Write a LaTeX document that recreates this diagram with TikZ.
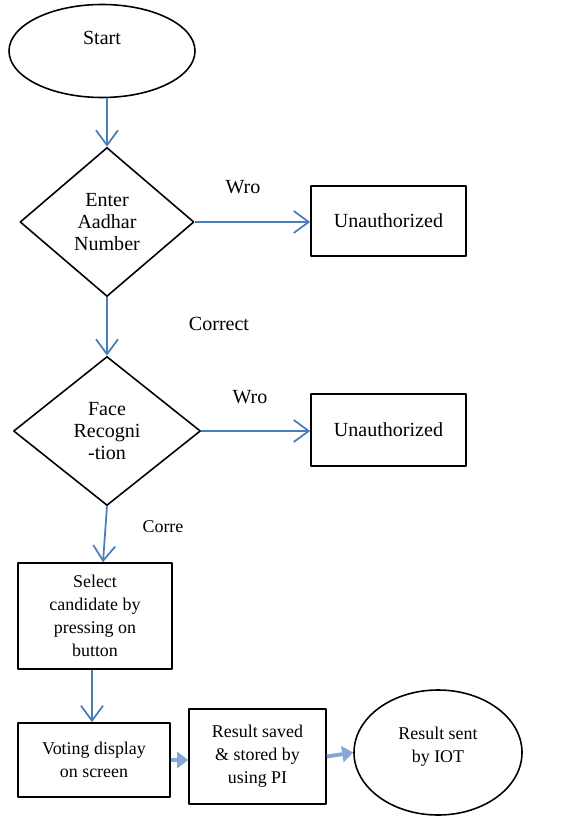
\documentclass[tikz,border=0pt]{standalone}
\usepackage{fontspec}
\setmainfont{Liberation Serif}
\usetikzlibrary{shapes.geometric,arrows.meta}

\definecolor{xanhdam}{RGB}{74,126,187}
\definecolor{xanhnhat}{RGB}{133,167,215}

\begin{document}
\begin{tikzpicture}[x=0.2mm,y=-0.2mm,line join=round,
  font=\fontsize{11.4}{12.6}\selectfont,
  khung/.style={draw,line width=0.9pt,align=center,inner sep=2pt},
  hop/.style={khung,rectangle},
  thoi/.style={khung,diamond},
  bau/.style={khung,ellipse},
  chunho/.style={font=\fontsize{10.2}{13.1}\selectfont},
  muiten/.style={xanhdam,line width=1pt,-{Straight Barb[length=3mm,width=4.4mm]}},
  muiday/.style={xanhnhat,line width=2.2pt,-{Triangle[length=2.2mm,width=3.2mm]}}]
  \useasboundingbox (0,0) rectangle (578,817);

  % Bat dau va hai buoc kiem tra
  \node[bau, minimum width=37.2mm, minimum height=18.6mm, text depth=5.2mm] (start) at (102,51) {Start};
  \node[thoi, minimum width=34.8mm, minimum height=29.8mm] (aadhar) at (107,222) {Enter\\Aadhar\\Number};
  \node[hop, minimum width=31mm, minimum height=14mm] (sai1) at (388.5,221) {Unauthorized};
  \node[thoi, minimum width=37.4mm, minimum height=29.8mm] (face) at (107,431) {Face\\Recogni\\-tion};
  \node[hop, minimum width=31mm, minimum height=14.4mm] (sai2) at (388.5,430) {Unauthorized};

  % Cac buoc bau chon
  \node[hop, chunho, minimum width=30.8mm, minimum height=21.2mm] (chon) at (95,616) {Select\\candidate by\\pressing on\\button};
  \node[hop, chunho, minimum width=30.4mm, minimum height=14.8mm] (hienthi) at (94,760) {Voting display\\on screen};
  \node[hop, chunho, minimum width=27.4mm, minimum height=19mm] (luu) at (257.5,756.5) {Result saved\\\& stored by\\using PI};
  \node[bau, chunho, minimum width=33.6mm, minimum height=25mm, text depth=3.2mm] (gui) at (438,752.5) {Result sent\\by IOT};

  % Nhan tren duong noi
  \node (wro1) at (243,187) {Wro};
  \node (dung1) at (219,324) {Correct};
  \node (wro2) at (250,397) {Wro};
  \node[chunho] (dung2) at (163,527) {Corre};

  \draw[muiten] (start.south -| aadhar.north) -- (aadhar.north);
  \draw[muiten] (aadhar.east) -- (aadhar.east -| sai1.west);
  \draw[muiten] (aadhar.south) -- (face.north);
  \draw[muiten] (face.east) -- (face.east -| sai2.west);
  \draw[muiten] (face.south) -- ([xshift=1.6mm]chon.north);
  \draw[muiten] ([xshift=-0.6mm]chon.south) -- ([xshift=-0.4mm]hienthi.north);
  \draw[muiday] (hienthi.east) -- (hienthi.east -| luu.west);
  \draw[muiday] (luu.east) -- (gui.west);
\end{tikzpicture}
\end{document}
